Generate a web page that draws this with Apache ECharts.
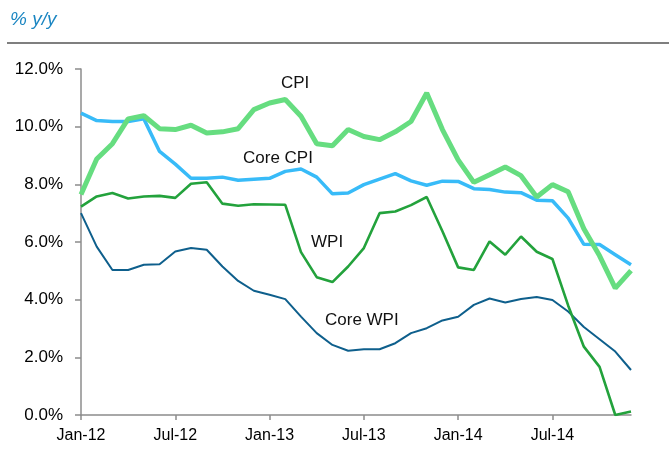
<!DOCTYPE html>
<html>
<head>
<meta charset="utf-8">
<script src="https://cdn.jsdelivr.net/npm/echarts@6/dist/echarts.min.js"></script>
<style>
html,body{margin:0;padding:0;background:#fff;}
#c{width:669px;height:453px;}
</style>
</head>
<body>
<div id="c"></div>
<script>
var months = ['Jan','Feb','Mar','Apr','May','Jun','Jul','Aug','Sep','Oct','Nov','Dec'];
var categories = [];
[12,13,14].forEach(function(y){ months.forEach(function(m){ categories.push(m + '-' + y); }); });

var cpi = [7.65,8.88,9.41,10.27,10.38,9.93,9.90,10.05,9.78,9.82,9.93,10.59,
           10.82,10.94,10.36,9.41,9.34,9.90,9.66,9.55,9.82,10.18,11.17,9.90,
           8.85,8.07,8.33,8.60,8.30,7.56,7.99,7.74,6.46,5.52,4.40,5.01];
var coreCpi = [10.47,10.21,10.18,10.18,10.27,9.14,8.70,8.21,8.21,8.25,8.14,8.18,
               8.21,8.45,8.53,8.25,7.67,7.70,7.99,8.18,8.37,8.12,7.97,8.11,
               8.10,7.85,7.82,7.73,7.71,7.45,7.43,6.83,5.92,5.91,5.56,5.21];
var wpi = [7.23,7.58,7.70,7.51,7.58,7.60,7.53,8.02,8.07,7.33,7.26,7.31,
           7.30,7.29,5.65,4.78,4.61,5.15,5.79,7.00,7.06,7.28,7.56,6.37,
           5.12,5.03,6.02,5.56,6.19,5.66,5.41,3.80,2.37,1.67,0.00,0.12];
var coreWpi = [7.00,5.84,5.03,5.03,5.21,5.23,5.67,5.79,5.73,5.15,4.65,4.31,
               4.17,4.02,3.41,2.84,2.43,2.23,2.28,2.28,2.49,2.84,3.01,3.28,
               3.41,3.82,4.04,3.90,4.02,4.09,3.99,3.59,3.05,2.63,2.20,1.56];
var yTicks = [0,2,4,6,8,10,12];

var font = '"Liberation Sans", Arial, sans-serif';
var chart = echarts.init(document.getElementById('c'), null, {renderer:'canvas'});

function line(name, data, color, width){
  return {name:name, type:'line', data:data, symbol:'none', smooth:false,
          lineStyle:{color:color, width:width}, itemStyle:{color:color}, animation:false, z:2};
}

chart.setOption({
  animation:false,
  backgroundColor:'#fff',
  grid:{left:81, right:38, top:69, bottom:38, containLabel:false},
  xAxis:{
    type:'category', data:categories, boundaryGap:false,
    axisLine:{lineStyle:{color:'#8c8c8c', width:1.5}},
    axisTick:{show:true, interval:5, length:5, lineStyle:{color:'#8c8c8c', width:1.5}},
    axisLabel:{interval:5, color:'#000', fontFamily:font, fontSize:16, margin:13},
    splitLine:{show:false}
  },
  yAxis:{
    type:'value', min:yTicks[0], max:yTicks[yTicks.length-1], interval:2,
    axisLine:{show:true, lineStyle:{color:'#8c8c8c', width:1.5}},
    axisTick:{show:true, length:6, lineStyle:{color:'#8c8c8c', width:1.5}},
    axisLabel:{color:'#000', fontFamily:font, fontSize:17, margin:18,
      formatter:function(v){ return v.toFixed(1) + '%'; }},
    splitLine:{show:false}
  },
  series:[
    line('Core WPI', coreWpi, '#0e5f8c', 2),
    line('WPI', wpi, '#23a23c', 2.6),
    line('Core CPI', coreCpi, '#38bbf8', 3.5),
    line('CPI', cpi, '#66dd80', 5)
  ],
  graphic:[
    {type:'text', left:10, top:10, style:{text:'% y/y', font:'italic 19px ' + font, fill:'#1b86c2'}},
    {type:'line', shape:{x1:7, y1:43, x2:669, y2:43}, style:{stroke:'#7f7f7f', lineWidth:2}},
    {type:'text', left:281, top:75, style:{text:'CPI', font:'17px ' + font, fill:'#111'}},
    {type:'text', left:243, top:150, style:{text:'Core CPI', font:'17px ' + font, fill:'#111'}},
    {type:'text', left:311, top:234, style:{text:'WPI', font:'17px ' + font, fill:'#111'}},
    {type:'text', left:325, top:312, style:{text:'Core WPI', font:'17px ' + font, fill:'#111'}}
  ]
});
</script>
</body>
</html>
